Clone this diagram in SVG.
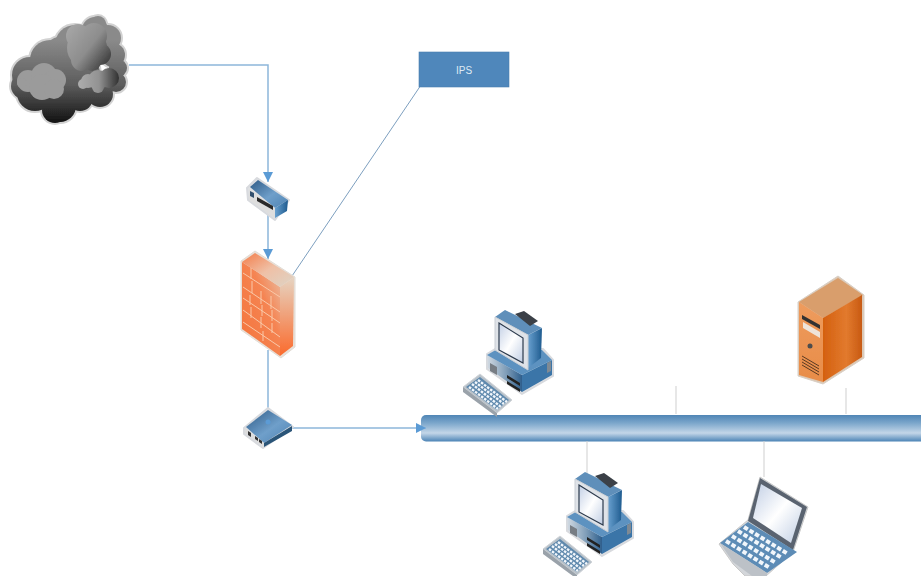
<svg xmlns="http://www.w3.org/2000/svg" width="921" height="576" viewBox="0 0 921 576">
<style>
.conn{fill:none;stroke:#8db6da;stroke-width:1.5}
.thin{fill:none;stroke:#cfcfcf;stroke-width:1}
.halo{fill:#dfe1e4;stroke:#d8dade;stroke-width:2;stroke-linejoin:round}
.lab{font:10px "Liberation Sans",Arial,sans-serif;fill:#dfeaf4;text-anchor:middle}
.soft{filter:url(#soft)}
</style>
<defs>
<filter id="soft" x="-5%" y="-5%" width="110%" height="110%"><feGaussianBlur stdDeviation="0.45"/></filter>
<marker id="arr" markerWidth="10" markerHeight="10" refX="10" refY="5" orient="auto" markerUnits="userSpaceOnUse"><path d="M0 0L10 5L0 10Z" fill="#5b9bd5"/></marker>
<linearGradient id="bus" x1="0" y1="0" x2="0" y2="1"><stop offset="0" stop-color="#4f85b5"/><stop offset=".3" stop-color="#7ba6cb"/><stop offset=".68" stop-color="#c3d6e8"/><stop offset="1" stop-color="#4c84b6"/></linearGradient>
<linearGradient id="cloudA" gradientUnits="userSpaceOnUse" x1="0" y1="40" x2="0" y2="122"><stop offset="0" stop-color="#8a8a8a"/><stop offset=".55" stop-color="#5c5c5c"/><stop offset="1" stop-color="#141414"/></linearGradient>
<linearGradient id="cloudB" gradientUnits="userSpaceOnUse" x1="66" y1="30" x2="112" y2="66"><stop offset="0" stop-color="#a6a6a6"/><stop offset=".5" stop-color="#8d8d8d"/><stop offset="1" stop-color="#2e2e2e"/></linearGradient>
<linearGradient id="cloudC" gradientUnits="userSpaceOnUse" x1="78" y1="0" x2="120" y2="0"><stop offset="0" stop-color="#adadad"/><stop offset=".5" stop-color="#929292"/><stop offset="1" stop-color="#2c2c2c"/></linearGradient>
<linearGradient id="brick" x1="0" y1="1" x2="1" y2="0"><stop offset="0" stop-color="#f4733a"/><stop offset=".6" stop-color="#f58452"/><stop offset="1" stop-color="#e9c4ac"/></linearGradient>
<linearGradient id="brickTop" x1="0" y1="0" x2="1" y2="1"><stop offset="0" stop-color="#f47c48"/><stop offset=".5" stop-color="#efc0a6"/><stop offset="1" stop-color="#ddd4c6"/></linearGradient>
<linearGradient id="brickSide" x1="0" y1="0" x2="0" y2="1"><stop offset="0" stop-color="#e6d4c2"/><stop offset="1" stop-color="#fb6a2c"/></linearGradient>
<linearGradient id="blueTop" x1="0" y1="0" x2="1" y2="1"><stop offset="0" stop-color="#2e5a86"/><stop offset=".55" stop-color="#6f9fca"/><stop offset="1" stop-color="#4e83b3"/></linearGradient>
<linearGradient id="blueSide" x1="0" y1="0" x2="1" y2="0"><stop offset="0" stop-color="#68a0cf"/><stop offset="1" stop-color="#1f5b8f"/></linearGradient>
<linearGradient id="baseFront" x1="0" y1="0" x2="1" y2="0"><stop offset="0" stop-color="#d3dbe3"/><stop offset=".55" stop-color="#7f9db8"/><stop offset="1" stop-color="#2f5f8c"/></linearGradient>
<linearGradient id="screen" x1="0" y1="0" x2="1" y2="1"><stop offset="0" stop-color="#c2cfe5"/><stop offset=".5" stop-color="#fff"/><stop offset="1" stop-color="#bfcde3"/></linearGradient>
<linearGradient id="orF" x1="0" y1="0" x2="0" y2="1"><stop offset="0" stop-color="#ee9c5e"/><stop offset="1" stop-color="#e88c48"/></linearGradient>
<linearGradient id="orS" x1="0" y1="0" x2="1" y2="0"><stop offset="0" stop-color="#d4600f"/><stop offset=".6" stop-color="#e27a2e"/><stop offset="1" stop-color="#c85a12"/></linearGradient>
<g id="pc">
<path class="halo" d="M26 47L39 39L82 42L92 53V69L61 87L26 62Z"/>
<path d="M26 48L61 68V85L27 61Z" fill="url(#baseFront)"/>
<path d="M61 68L91 53V68L61 85Z" fill="#3a74a8"/>
<path d="M26 48L40 40L81 43L91 53L61 68Z" fill="#5d92c0"/>
<path d="M29 56L36 60V68L29 64Z" fill="#777d84"/>
<path d="M46 68L59 76V79L46 71ZM46 74L59 82V85L46 77Z" fill="#222"/>
<path d="M86 56L90 54V64L86 66Z" fill="#7f8a94"/>
<path d="M67 28L81 21L80 51L67 61Z" fill="url(#blueSide)"/>
<path d="M34 10L44 3L81 21L67 28Z" fill="#5e8fba"/>
<path d="M54 7L63 4L77 14L69 19Z" fill="#3a3f46"/>
<path d="M34 10L67 28V63L34 43Z" fill="#dfe3e8" stroke="#c9ced4"/>
<path d="M38 16L62 31V56L38 43Z" fill="url(#screen)" stroke="#2c3a4c" stroke-width="1.2"/>
<path d="M2 80L19 67L51 93L36 106Z" fill="#b9c2ca" stroke="#d0d4d8"/>
<path d="M2 80L36 106V110L2 85Z" fill="#9aa2aa"/>
<path d="M5 80L19 70L48 93L36 103Z" fill="#5f89ad"/>
<path d="M8 80L37 102M11 77L40 100M14 75L43 97M17 73L46 95" stroke="#f1f6fb" stroke-width="2.4" stroke-dasharray="2.6 1.2" fill="none"/>
</g>
</defs>

<g id="bus"><rect x="421" y="415" width="520" height="26.5" rx="5" fill="url(#bus)"/></g>

<g id="connectors">
<path class="conn" d="M129 65H268V182" marker-end="url(#arr)"/>
<path class="conn" d="M268 205V259" marker-end="url(#arr)"/>
<path class="conn" d="M268 350V423"/>
<path class="conn" d="M292 428H426" marker-end="url(#arr)"/>
<path d="M292 276L421 85" fill="none" stroke="#7d9fbf" stroke-width="1"/>
<path class="thin" d="M587 441V475M676 386V414M764 441V477M846 388V414"/>
</g>

<g id="cloud" class="soft">
<g fill="#d2d2d2" stroke="#d2d2d2" stroke-width="4">
<circle cx="30" cy="75" r="18"/><circle cx="50" cy="60" r="20"/><circle cx="60" cy="52" r="15"/><circle cx="75" cy="45" r="20"/><circle cx="95" cy="30" r="13"/><circle cx="98" cy="24" r="8"/><circle cx="108" cy="38" r="13"/><circle cx="113" cy="55" r="12"/><circle cx="118" cy="68" r="9"/><circle cx="116" cy="82" r="10"/><circle cx="100" cy="94" r="13"/><circle cx="80" cy="98" r="13"/><circle cx="60" cy="106" r="16"/><circle cx="55" cy="110" r="13"/><circle cx="35" cy="93" r="18"/><circle cx="24" cy="86" r="13"/><circle cx="70" cy="75" r="30"/>
</g>
<g fill="url(#cloudA)">
<circle cx="30" cy="75" r="18"/><circle cx="50" cy="60" r="20"/><circle cx="60" cy="52" r="15"/><circle cx="75" cy="45" r="20"/><circle cx="95" cy="30" r="13"/><circle cx="98" cy="24" r="8"/><circle cx="108" cy="38" r="13"/><circle cx="113" cy="55" r="12"/><circle cx="118" cy="68" r="9"/><circle cx="116" cy="82" r="10"/><circle cx="100" cy="94" r="13"/><circle cx="80" cy="98" r="13"/><circle cx="60" cy="106" r="16"/><circle cx="55" cy="110" r="13"/><circle cx="35" cy="93" r="18"/><circle cx="24" cy="86" r="13"/><circle cx="70" cy="75" r="30"/>
</g>
<g fill="url(#cloudB)">
<circle cx="78" cy="36" r="12"/><circle cx="94" cy="36" r="13"/><circle cx="87" cy="48" r="20"/><circle cx="100" cy="54" r="11"/><circle cx="82" cy="60" r="11"/><circle cx="92" cy="62" r="9"/>
</g>
<g fill="#9b9b9b">
<circle cx="28" cy="81" r="11"/><circle cx="44" cy="76" r="13"/><circle cx="55" cy="80" r="11"/><circle cx="42" cy="87" r="13"/><circle cx="54" cy="89" r="10"/><circle cx="22" cy="83" r="5"/>
</g>
<g fill="url(#cloudC)">
<circle cx="88" cy="81" r="7"/><circle cx="98" cy="80" r="10"/><circle cx="109" cy="78" r="10"/><circle cx="83" cy="84" r="5"/><circle cx="98" cy="87" r="6"/>
</g>
</g>

<g id="router-top" class="soft">
<path class="halo" d="M247 188L257 178L289 200L275 220L248 200Z" stroke-width="1.2"/>
<path d="M250 187L258 180L288 200L275 208Z" fill="url(#blueTop)"/>
<path d="M275 208L288 200L287 211L275 218Z" fill="url(#blueSide)"/>
<path d="M249 189L275 208V218L249 200Z" fill="#dedede"/>
<path d="M257 197L273 206V210L257 201Z" fill="#2a2a2a"/>
<path d="M250 191L254 193V198L250 196Z" fill="#33506e"/>
</g>

<g id="firewall" class="soft">
<path d="M241 261L255 251L295 277V347L281 358L241 330Z" fill="#e8e0d8" stroke="#e3dcd5"/>
<path d="M242 262L280 287V356L242 329Z" fill="url(#brick)"/>
<path d="M242 262L255 253L294 277L280 287Z" fill="url(#brickTop)"/>
<path d="M280 287L294 277L293 346L280 356Z" fill="url(#brickSide)"/>
<path d="M243 273L280 297M243 287L280 312M243 298L280 323M243 310L280 337M243 322L280 347M251 268V279M261 291V304M271 296V309M252 281V293M262 305V316M272 310V321M250 295V305M261 317V328M272 323V333M251 307V318M263 331V341" stroke="#f9c8a8" stroke-width="1" fill="none"/>
</g>

<g id="switch" class="soft">
<path class="halo" d="M244 428L268 408L293 427L263 448L244 434Z" stroke-width="1.2"/>
<path d="M246 427L268 410L292 425L264 443Z" fill="url(#blueTop)"/>
<path d="M264 443L292 426V431L264 447Z" fill="#2b5478"/>
<path d="M245 428L264 443V447L245 433Z" fill="#ddd"/>
<path d="M248 431L251 433V437L248 435ZM255 436L258 438V441L255 439ZM259 439L262 441V444L259 442Z" fill="#333"/>
<circle cx="268" cy="422" r="2.5" fill="#5b9bd5"/>
</g>

<g id="ips">
<rect x="419" y="52" width="90" height="35" fill="#4f87bb" stroke="#4a7fb0" stroke-width=".6"/>
<text class="lab" x="464" y="74">IPS</text>
</g>

<g id="pc-top" class="soft"><use href="#pc" x="461" y="307"/></g>
<g id="pc-bottom" class="soft"><use href="#pc" x="541" y="469"/></g>

<g id="server" class="soft">
<path d="M798 302L838 276L864 295V358L823 384L798 376Z" fill="#dcc8b4" stroke="#d8cfc6"/>
<path d="M799 302L838 278L863 295L823 318Z" fill="#d99e6c"/>
<path d="M823 318L862 295V357L823 382Z" fill="url(#orS)"/>
<path d="M799 302L823 318V382L799 375Z" fill="url(#orF)"/>
<path d="M802 315L820 325V329L802 319Z" fill="#333"/>
<path d="M803 322L820 332V338L803 328Z" fill="#eee4da"/>
<circle cx="810" cy="346" r="2.5" fill="#4d4d4d"/>
<path d="M802 356L819 366M802 359L819 369M802 362L819 372M802 365L819 375" stroke="#5a3a22" fill="none"/>
</g>

<g id="laptop" class="soft">
<path d="M719 544L748 520L760 477L808 507L793 552L766 576L745 576L733 564Z" fill="#d3d6da" stroke="#c8c8c8"/>
<path d="M760 478L807 507L793 550L748 521Z" fill="#5a6470"/>
<path d="M761 484L802 508L791 543L753 518Z" fill="url(#screen)"/>
<path d="M720 543L748 522L797 552L767 573Z" fill="#5d8cb6"/>
<path d="M744 527L788 554M738 531L782 558M732 536L776 563M726 541L770 568" stroke="#f1f6fb" stroke-width="4" stroke-dasharray="4.5 2" fill="none"/>
<path d="M720 543L767 573V576H752L733 562Z" fill="#bcc1c7"/>
</g>
</svg>
